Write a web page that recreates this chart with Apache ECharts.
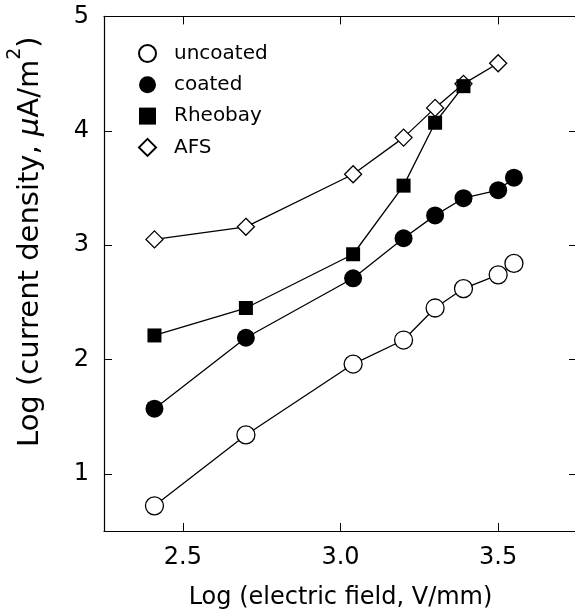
<!DOCTYPE html>
<html>
<head>
<meta charset="utf-8">
<script src="https://cdn.jsdelivr.net/npm/echarts@6/dist/echarts.min.js"></script>
<style>
  html, body { margin: 0; padding: 0; background: #fff; }
  #chart { width: 575px; height: 616px; }
</style>
</head>
<body>
<div id="chart"></div>
<script>
// Log of electric field (V/mm) for each measurement
const fieldUncoated = [2.41, 2.70, 3.04, 3.20, 3.30, 3.39, 3.50, 3.55];
const fieldCoated   = [2.41, 2.70, 3.04, 3.20, 3.30, 3.39, 3.50, 3.55];
const fieldRheobay  = [2.41, 2.70, 3.04, 3.20, 3.30, 3.39];
const fieldAFS      = [2.41, 2.70, 3.04, 3.20, 3.30, 3.39, 3.50];

// Log of current density (uA/m^2)
const currentUncoated = [0.72, 1.34, 1.96, 2.17, 2.45, 2.62, 2.74, 2.84];
const currentCoated   = [1.57, 2.19, 2.71, 3.06, 3.26, 3.41, 3.48, 3.59];
const currentRheobay  = [2.21, 2.45, 2.92, 3.52, 4.07, 4.39];
const currentAFS      = [3.05, 3.16, 3.62, 3.94, 4.20, 4.41, 4.59];

const xTicks = [2.5, 3.0, 3.5];
const yTicks = [1, 2, 3, 4, 5];

const FONT = 'DejaVu Sans';

function pairs(xs, ys) {
  return xs.map((x, i) => [x, ys[i]]);
}

const lineStyle = { color: '#000', width: 1.3 };

const chart = echarts.init(document.getElementById('chart'), null, { renderer: 'canvas' });

const tickStyle = { show: true, inside: true, length: 8, lineStyle: { color: '#000', width: 1 } };
const axisLineStyle = { show: true, lineStyle: { color: '#000', width: 1.2 } };

chart.setOption({
  animation: false,
  backgroundColor: '#fff',
  grid: { left: 104, right: -2, top: 16.4, bottom: 85, containLabel: false, outerBoundsMode: 'none' },
  legend: {
    orient: 'vertical',
    left: 138,
    top: 43.5,
    padding: 0,
    itemWidth: 17,
    itemHeight: 17,
    itemGap: 11.3,
    textStyle: { fontFamily: FONT, fontSize: 20, color: '#000', padding: [0, 0, 0, 13] },
    data: [
      { name: 'uncoated', icon: 'circle' },
      { name: 'coated', icon: 'circle' },
      { name: 'Rheobay', icon: 'rect' },
      { name: 'AFS', icon: 'diamond' }
    ]
  },
  xAxis: [
    {
      type: 'value',
      min: 2.25,
      max: 3.75,
      position: 'bottom',
      axisLine: axisLineStyle,
      axisTick: Object.assign({ customValues: xTicks }, tickStyle),
      splitLine: { show: false },
      axisLabel: {
        customValues: xTicks,
        formatter: v => v.toFixed(1),
        fontFamily: FONT,
        fontSize: 24,
        color: '#000',
        margin: 15
      },
      name: 'Log (electric field, V/mm)',
      nameLocation: 'middle',
      nameGap: 55,
      nameTextStyle: { fontFamily: FONT, fontSize: 24, color: '#000' }
    },
    {
      type: 'value',
      min: 2.25,
      max: 3.75,
      position: 'top',
      axisLine: axisLineStyle,
      axisTick: Object.assign({ customValues: xTicks }, tickStyle),
      splitLine: { show: false },
      axisLabel: { show: false }
    }
  ],
  yAxis: [
    {
      type: 'value',
      min: 0.5,
      max: 5,
      position: 'left',
      axisLine: axisLineStyle,
      axisTick: Object.assign({ customValues: yTicks }, tickStyle),
      splitLine: { show: false },
      axisLabel: {
        customValues: yTicks,
        formatter: v => String(v),
        fontFamily: FONT,
        fontSize: 24,
        color: '#000',
        margin: 15
      },
      name: '{n|Log (current density, }{mu|μ}{n|A/m}{sup|2}{n|)}',
      nameLocation: 'middle',
      nameGap: 49,
      nameRotate: 90,
      nameTextStyle: {
        fontFamily: FONT,
        fontSize: 29,
        color: '#000',
        padding: [0, 0, 0, 64],
        rich: {
          n: { fontFamily: FONT, fontSize: 29, color: '#000' },
          mu: { fontFamily: FONT, fontSize: 29, color: '#000', fontStyle: 'italic' },
          sup: { fontFamily: FONT, fontSize: 19, color: '#000', padding: [0, 0, 30, 0] }
        }
      }
    },
    {
      type: 'value',
      min: 0.5,
      max: 5,
      position: 'right',
      axisLine: { show: false },
      axisTick: Object.assign({ customValues: yTicks }, tickStyle),
      splitLine: { show: false },
      axisLabel: { show: false }
    }
  ],
  series: [
    {
      name: 'uncoated',
      type: 'line',
      data: pairs(fieldUncoated, currentUncoated),
      symbol: 'circle',
      symbolSize: 18,
      itemStyle: { color: '#fff', borderColor: '#000', borderWidth: 1.3 },
      lineStyle: lineStyle,
      z: 2
    },
    {
      name: 'coated',
      type: 'line',
      data: pairs(fieldCoated, currentCoated),
      symbol: 'circle',
      symbolSize: 18,
      itemStyle: { color: '#000', borderColor: '#000', borderWidth: 0 },
      lineStyle: lineStyle,
      z: 3
    },
    {
      name: 'AFS',
      type: 'line',
      data: pairs(fieldAFS, currentAFS),
      symbol: 'diamond',
      symbolSize: 17,
      itemStyle: { color: '#fff', borderColor: '#000', borderWidth: 1.3 },
      lineStyle: lineStyle,
      z: 4
    },
    {
      name: 'Rheobay',
      type: 'line',
      data: pairs(fieldRheobay, currentRheobay),
      symbol: 'rect',
      symbolSize: 14,
      itemStyle: { color: '#000', borderColor: '#000', borderWidth: 0 },
      lineStyle: lineStyle,
      z: 5
    }
  ]
});
</script>
</body>
</html>
